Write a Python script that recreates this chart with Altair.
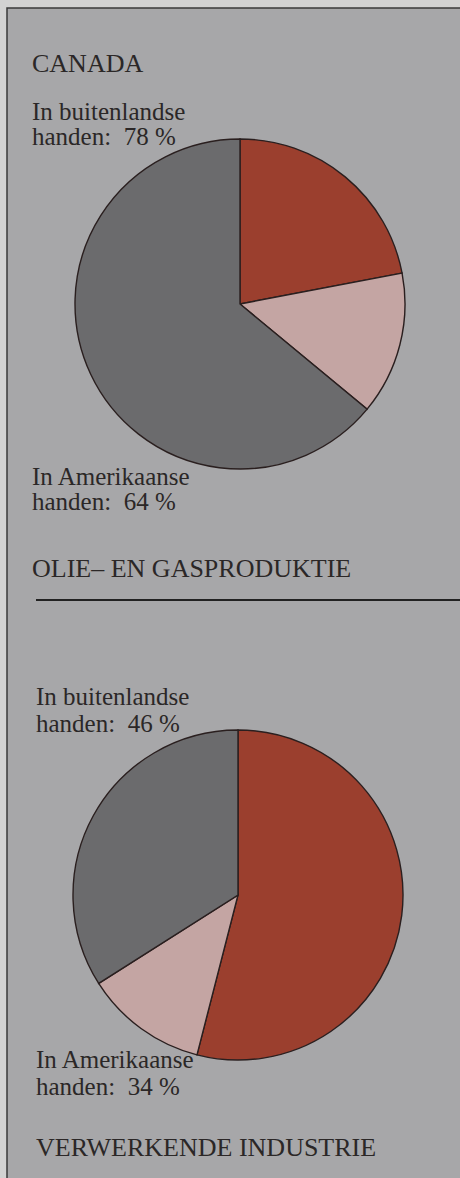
import altair as alt
import pandas as pd

# Data
slices = ["Binnenlands", "Overig buitenlands", "Amerikaans"]
colors = ["#9b3f2e", "#c4a5a3", "#6b6b6d"]
olie_values = [22, 14, 64]
industrie_values = [54, 12, 34]

titles = ["CANADA", "OLIE– EN GASPRODUKTIE", "VERWERKENDE INDUSTRIE"]
labels_top = ["In buitenlandse", "handen:\u00a0 78 %", "In Amerikaanse", "handen:\u00a0 64 %"]
labels_bottom = ["In buitenlandse", "handen:\u00a0 46 %", "In Amerikaanse", "handen:\u00a0 34 %"]

W, H = 460, 1178
FONT = "Liberation Serif"
TXT = "#2b2727"

def pie_df(values):
    return pd.DataFrame({"slice": slices, "value": values, "color": colors,
                         "order": list(range(len(slices)))})

bg = alt.Chart(pd.DataFrame({"a": [0]})).mark_rect(
    fill="#a7a7a9", stroke="#3a3a3a", strokeWidth=1.5
).encode(x=alt.value(7), x2=alt.value(475), y=alt.value(8), y2=alt.value(1200))

rule = alt.Chart(pd.DataFrame({"a": [0]})).mark_rule(
    color="#222222", strokeWidth=2
).encode(x=alt.value(36), x2=alt.value(470), y=alt.value(600))

def pie(values, cx, cy, r):
    return alt.Chart(pie_df(values)).mark_arc(
        radius=r, stroke="#2a1f1f", strokeWidth=1.4
    ).encode(
        theta=alt.Theta("value:Q", stack=True, scale=alt.Scale(domain=[0, 100])),
        order=alt.Order("order:Q"),
        color=alt.Color("color:N", scale=None),
        x=alt.value(cx), y=alt.value(cy),
    )

def text(s, x, y, size=25):
    return alt.Chart(pd.DataFrame({"t": [s]})).mark_text(
        align="left", baseline="alphabetic", font=FONT, fontSize=size, color=TXT
    ).encode(text="t:N", x=alt.value(x), y=alt.value(y))

layers = [bg, rule,
          pie(olie_values, 240, 304, 165),
          pie(industrie_values, 238, 895, 165),
          text(titles[0], 32, 72, 26),
          text(labels_top[0], 32, 120), text(labels_top[1], 32, 145),
          text(labels_top[2], 32, 485), text(labels_top[3], 32, 510),
          text(titles[1], 32, 577, 26),
          text(labels_bottom[0], 36, 705), text(labels_bottom[1], 36, 732),
          text(labels_bottom[2], 36, 1068), text(labels_bottom[3], 36, 1095),
          text(titles[2], 36, 1156, 26)]

chart = alt.layer(*layers).properties(
    width=W, height=H, padding=0, autosize=alt.AutoSizeParams(type="none"),
    background="#d2d2d2"
).configure_view(stroke=None)

chart.save("out.html", embed_options={"renderer": "svg", "actions": False})
